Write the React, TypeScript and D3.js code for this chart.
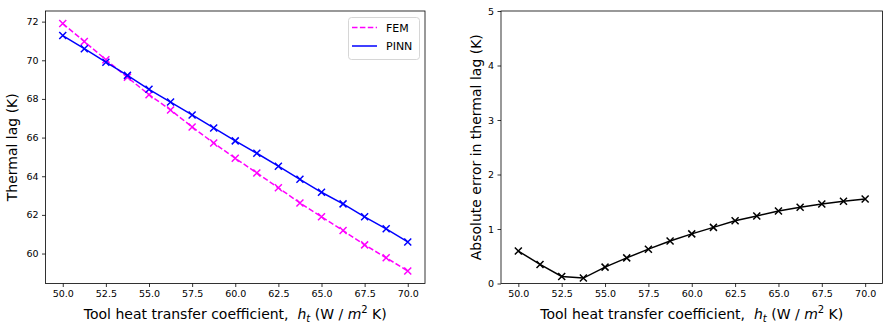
import * as d3 from 'd3';
import { useEffect, useRef } from 'react';

// tool heat transfer coefficient (W / m^2 K)
const hValues = [50, 51.25, 52.5, 53.75, 55, 56.25, 57.5, 58.75, 60, 61.25, 62.5, 63.75, 65, 66.25, 67.5, 68.75, 70];
const femLag = [71.9, 70.97, 70.03, 69.12, 68.22, 67.43, 66.55, 65.72, 64.93, 64.17, 63.4, 62.62, 61.9, 61.19, 60.45, 59.78, 59.1];
const pinnLag = [71.28, 70.6, 69.9, 69.22, 68.5, 67.84, 67.17, 66.5, 65.83, 65.19, 64.52, 63.84, 63.17, 62.57, 61.9, 61.28, 60.6];
const absError = [0.595, 0.35, 0.13, 0.1, 0.3, 0.47, 0.63, 0.78, 0.91, 1.03, 1.15, 1.24, 1.33, 1.4, 1.46, 1.51, 1.55];

const xTicks = [50, 52.5, 55, 57.5, 60, 62.5, 65, 67.5, 70];
const lagTicks = [60, 62, 64, 66, 68, 70, 72];
const errTicks = [0, 1, 2, 3, 4, 5];

const FONT = '"DejaVu Sans", sans-serif';
const xMark = 'M-3.5,-3.5L3.5,3.5M-3.5,3.5L3.5,-3.5';

function addXLabel(g, cx, y) {
  const t = g
    .append('text')
    .attr('x', cx)
    .attr('y', y)
    .attr('text-anchor', 'middle')
    .style('font-family', FONT)
    .style('font-size', '14px')
    .style('fill', 'black');
  t.append('tspan').text('Tool heat transfer coefficient,\u00a0\u00a0');
  t.append('tspan').style('font-style', 'italic').text('h');
  t.append('tspan').style('font-style', 'italic').style('font-size', '10px').attr('dy', 3).text('t');
  t.append('tspan').attr('dy', -3).text('\u00a0(W / ');
  t.append('tspan').style('font-style', 'italic').text('m');
  t.append('tspan').style('font-size', '10px').attr('dy', -6).text('2');
  t.append('tspan').attr('dy', 6).text('\u00a0K)');
}

function drawPanel(svg, box, xDomain, yDomain, yTicks, yFormat, yLabel, yLabelX) {
  const x = d3.scaleLinear().domain(xDomain).range([box.left, box.right]);
  const y = d3.scaleLinear().domain(yDomain).range([box.bottom, box.top]);

  const xAxis = svg
    .append('g')
    .attr('transform', `translate(0, ${box.bottom})`)
    .call(d3.axisBottom(x).tickValues(xTicks).tickFormat(d3.format('.1f')).tickSize(3.5).tickPadding(3.5));
  const yAxis = svg
    .append('g')
    .attr('transform', `translate(${box.left}, 0)`)
    .call(d3.axisLeft(y).tickValues(yTicks).tickFormat(yFormat).tickSize(3.5).tickPadding(3.5));
  [xAxis, yAxis].forEach((a) => {
    a.select('.domain').remove();
    a.selectAll('line').attr('stroke', 'black').attr('stroke-width', 0.8);
    a.selectAll('text').style('font-family', FONT).style('font-size', '9.5px').attr('fill', 'black');
  });

  svg
    .append('rect')
    .attr('x', box.left)
    .attr('y', box.top)
    .attr('width', box.right - box.left)
    .attr('height', box.bottom - box.top)
    .attr('fill', 'none')
    .attr('stroke', 'black')
    .attr('stroke-width', 0.8);

  svg
    .append('text')
    .attr('transform', `translate(${yLabelX}, ${(box.top + box.bottom) / 2}) rotate(-90)`)
    .attr('text-anchor', 'middle')
    .style('font-family', FONT)
    .style('font-size', '14px')
    .style('fill', 'black')
    .text(yLabel);

  addXLabel(svg, (box.left + box.right) / 2, 318.5);

  return { x, y };
}

function drawSeries(svg, x, y, values, color, dash) {
  const line = d3
    .line()
    .x((d, i) => x(hValues[i]))
    .y((d) => y(d));
  svg
    .append('path')
    .datum(values)
    .attr('d', line)
    .attr('fill', 'none')
    .attr('stroke', color)
    .attr('stroke-width', 1.5)
    .attr('stroke-dasharray', dash ? '5.5,2.4' : null);
  svg
    .append('g')
    .selectAll('path')
    .data(values)
    .join('path')
    .attr('transform', (d, i) => `translate(${x(hValues[i])}, ${y(d)})`)
    .attr('d', xMark)
    .attr('stroke', color)
    .attr('stroke-width', 1.5)
    .attr('fill', 'none');
}

const App = () => {
  const ref = useRef(null);

  useEffect(() => {
    const svg = d3.select(ref.current);
    svg.selectAll('*').remove();

    // left: thermal lag
    const left = drawPanel(
      svg,
      { left: 45.5, right: 425, top: 11, bottom: 283.5 },
      [49, 71],
      [58.45, 72.55],
      lagTicks,
      d3.format('d'),
      'Thermal lag (K)',
      17
    );
    drawSeries(svg, left.x, left.y, femLag, '#ff00ff', true);
    drawSeries(svg, left.x, left.y, pinnLag, '#0000ff', false);

    // legend
    const lg = svg.append('g');
    lg.append('rect')
      .attr('x', 348.5)
      .attr('y', 17.5)
      .attr('width', 71)
      .attr('height', 42)
      .attr('rx', 3)
      .attr('fill', 'white')
      .attr('fill-opacity', 0.8)
      .attr('stroke', '#cccccc')
      .attr('stroke-width', 0.8);
    const legendItems = [
      { name: 'FEM', color: '#ff00ff', dash: true },
      { name: 'PINN', color: '#0000ff', dash: false },
    ];
    legendItems.forEach((item, i) => {
      const cy = 27.5 + i * 18.5;
      lg.append('line')
        .attr('x1', 352)
        .attr('x2', 377)
        .attr('y1', cy)
        .attr('y2', cy)
        .attr('stroke', item.color)
        .attr('stroke-width', 1.5)
        .attr('stroke-dasharray', item.dash ? '5.5,2.4' : null);
      lg.append('text')
        .attr('x', 386)
        .attr('y', cy + 4)
        .style('font-family', FONT)
        .style('font-size', '11px')
        .style('fill', 'black')
        .text(item.name);
    });

    // right: absolute error
    const right = drawPanel(
      svg,
      { left: 501, right: 882.5, top: 11, bottom: 283.5 },
      [49, 71],
      [0, 5],
      errTicks,
      d3.format('d'),
      'Absolute error in thermal lag (K)',
      480.5
    );
    drawSeries(svg, right.x, right.y, absError, 'black', false);
  }, []);

  return (
    <svg
      ref={ref}
      width={892}
      height={330}
      style={{ position: 'absolute', left: 0, top: 0, background: 'white' }}
    ></svg>
  );
};

export default App;
